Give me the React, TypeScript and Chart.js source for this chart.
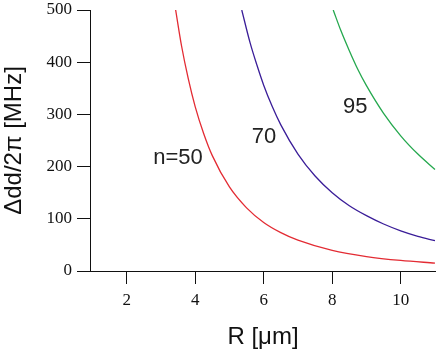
import React, { useEffect, useRef } from "react";
import { Chart, registerables } from "chart.js";

Chart.register(...registerables);

// n = 50 (red)
const rN50 = [3.43, 3.6, 3.8, 4.0, 4.25, 4.5, 5, 5.5, 6, 6.5, 7, 8, 9, 10, 11];
const vN50 = [500, 432, 368, 315, 263, 221, 161, 121, 93, 73.5, 59, 39.4, 27.7, 20.2, 15.2];

// n = 70 (purple)
const rN70 = [5.36, 5.6, 5.8, 6.0, 6.25, 6.5, 7, 7.5, 8, 8.5, 9, 9.5, 10, 10.5, 11];
const vN70 = [500, 438, 395, 356, 315, 280, 224, 182, 150, 125, 106, 90, 77, 66.5, 58];

// n = 95 (green)
const rN95 = [8.03, 8.25, 8.5, 8.75, 9, 9.5, 10, 10.5, 11];
const vN95 = [500, 461, 422, 386, 355, 302, 259, 224, 194.5];

const xTicks = [2, 4, 6, 8, 10];
const yTicks = [0, 100, 200, 300, 400, 500];

const curveLabels = ["n=50", "70", "95"];
const labelR = [3.5, 6.01, 8.67];
const labelV = [216, 257, 315];

const colors = ["#e32b33", "#3a1d98", "#25a84e"];

const toPts = (xs: number[], ys: number[]) => xs.map((x, i) => ({ x, y: ys[i] }));

export default function App() {
  const ref = useRef<HTMLCanvasElement | null>(null);
  useEffect(() => {
    if (!ref.current) return;
    const labelPlugin = {
      id: "curveLabels",
      afterDatasetsDraw(chart: any) {
        const { ctx, scales } = chart;
        ctx.save();
        ctx.font = "22px 'Liberation Sans', Arial, sans-serif";
        ctx.fillStyle = "#222";
        ctx.textAlign = "center";
        ctx.textBaseline = "middle";
        curveLabels.forEach((t, i) => {
          ctx.fillText(t, scales.x.getPixelForValue(labelR[i]), scales.y.getPixelForValue(labelV[i]));
        });
        ctx.restore();
      },
    };
    const mk = (d: { x: number; y: number }[], c: string) => ({
      data: d,
      borderColor: c,
      backgroundColor: c,
      borderWidth: 1.3,
      pointRadius: 0,
      fill: false,
      cubicInterpolationMode: "monotone" as const,
    });
    const chart = new Chart(ref.current, {
      type: "line",
      data: {
        datasets: [
          mk(toPts(rN50, vN50), colors[0]),
          mk(toPts(rN70, vN70), colors[1]),
          mk(toPts(rN95, vN95), colors[2]),
        ],
      },
      options: {
        responsive: false,
        animation: false,
        devicePixelRatio: 1,
        layout: { padding: { top: 0, right: 0, left: 0, bottom: 0 } },
        plugins: { legend: { display: false }, tooltip: { enabled: false } },
        scales: {
          x: {
            type: "linear",
            min: 0.93,
            max: 11.03,
            afterBuildTicks: (s: any) => {
              s.ticks = xTicks.map((v) => ({ value: v }));
            },
            afterFit: (s: any) => {
              s.height = 85;
            },
            ticks: {
              color: "#111",
              padding: 6,
              font: { family: "'Liberation Serif', 'Times New Roman', serif", size: 17 },
            },
            grid: { drawOnChartArea: false, drawTicks: true, tickLength: 13, color: "#111", lineWidth: 1 },
            border: { display: true, color: "#111", width: 1 },
            title: {
              display: true,
              text: "R [μm]",
              color: "#111",
              font: { family: "'Liberation Sans', Arial, sans-serif", size: 24, weight: "normal" },
              padding: { top: 0, bottom: 4 },
            },
          },
          y: {
            type: "linear",
            min: 0,
            max: 500,
            afterBuildTicks: (s: any) => {
              s.ticks = yTicks.map((v) => ({ value: v }));
            },
            afterFit: (s: any) => {
              s.width = 90;
              s.paddingTop = 10;
            },
            ticks: {
              color: "#111",
              padding: 5,
              font: { family: "'Liberation Serif', 'Times New Roman', serif", size: 17 },
            },
            grid: { drawOnChartArea: false, drawTicks: true, tickLength: 13, color: "#111", lineWidth: 1 },
            border: { display: true, color: "#111", width: 1 },
            title: {
              display: true,
              text: "Δdd/2π [MHz]",
              color: "#111",
              font: { family: "'Liberation Sans', Arial, sans-serif", size: 24, weight: "normal" },
              padding: { top: 0, bottom: 0 },
            },
          },
        },
      },
      plugins: [labelPlugin],
    });
    return () => chart.destroy();
  }, []);
  return (
    <div style={{ position: "fixed", left: 0, top: 0, width: 436, height: 356, background: "#fff" }}>
      <canvas ref={ref} width={436} height={356} style={{ width: 436, height: 356, display: "block" }} />
    </div>
  );
}
